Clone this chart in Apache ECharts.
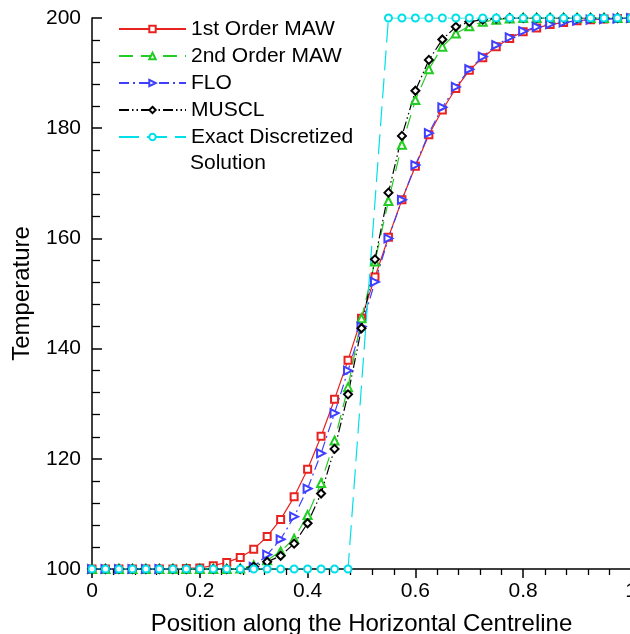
<!DOCTYPE html>
<html>
<head>
<meta charset="utf-8">
<script src="https://cdn.jsdelivr.net/npm/echarts@6/dist/echarts.min.js"></script>
<style>
  html, body { margin: 0; padding: 0; background: #fff; }
  #chart { width: 630px; height: 634px; }
</style>
</head>
<body>
<div id="chart"></div>
<script>
// positions along the centreline
var positions = [0, 0.025, 0.05, 0.075, 0.1, 0.125, 0.15, 0.175, 0.2, 0.225,
                 0.25, 0.275, 0.3, 0.325, 0.35, 0.375, 0.4, 0.425, 0.45, 0.475,
                 0.5, 0.525, 0.55, 0.575, 0.6, 0.625, 0.65, 0.675, 0.7, 0.725,
                 0.75, 0.775, 0.8, 0.825, 0.85, 0.875, 0.9, 0.925, 0.95, 0.975, 1];

var maw1 = [100, 100, 100, 100, 100, 100, 100, 100.1, 100.2, 100.6,
            101.2, 102.1, 103.6, 105.9, 109.0, 113.1, 118.1, 124.1, 130.8, 137.9,
            145.5, 153.0, 160.2, 167.0, 173.1, 178.8, 183.3, 187.2, 190.5, 192.8,
            194.8, 196.3, 197.5, 198.2, 198.8, 199.2, 199.5, 199.7, 199.8, 199.9, 200];

var maw2 = [100, 100, 100, 100, 100, 100, 100, 100, 100, 100,
            100, 100.1, 100.7, 101.6, 103.2, 105.5, 109.8, 115.6, 123.3, 133.0,
            145.5, 155.8, 166.8, 177.0, 185.1, 190.7, 194.8, 197.2, 198.5, 199.3,
            199.7, 199.9, 200, 200, 200, 200, 200, 200, 200, 200, 200];

var flo = [100, 100, 100, 100, 100, 100, 99.9, 99.4, 99.1, 98.9,
           98.8, 99.2, 100.4, 102.6, 105.4, 109.5, 114.6, 121.0, 128.3, 136.0,
           144.0, 152.1, 160.0, 167.0, 173.3, 179.1, 183.8, 187.5, 190.7, 193.0,
           195.1, 196.5, 197.6, 198.4, 198.9, 199.2, 199.5, 199.7, 199.8, 199.9, 200];

var muscl = [100, 100, 100, 100, 100, 100, 100, 100, 100, 100,
             100, 100, 100.4, 101.3, 102.4, 104.6, 108.3, 113.7, 121.8, 131.7,
             143.7, 156.2, 168.3, 178.6, 186.8, 192.4, 196.1, 198.4, 199.3, 199.7,
             199.9, 200, 200, 200, 200, 200, 200, 200, 200, 200, 200];

var exactX = [0, 0.025, 0.05, 0.075, 0.1, 0.125, 0.15, 0.175, 0.2, 0.225,
              0.25, 0.275, 0.3, 0.325, 0.35, 0.375, 0.4, 0.425, 0.45, 0.475,
              0.55, 0.575, 0.6, 0.625, 0.65, 0.675, 0.7, 0.725,
              0.75, 0.775, 0.8, 0.825, 0.85, 0.875, 0.9, 0.925, 0.95, 0.975, 1];
var exactT = [100, 100, 100, 100, 100, 100, 100, 100, 100, 100,
              100, 100, 100, 100, 100, 100, 100, 100, 100, 100,
              200, 200, 200, 200, 200, 200, 200, 200,
              200, 200, 200, 200, 200, 200, 200, 200, 200, 200, 200];

var FONT = 'Liberation Sans, Arial, Helvetica, sans-serif';

function pairs(xs, ys) {
    var out = [];
    for (var i = 0; i < xs.length; i++) out.push([xs[i], ys[i]]);
    return out;
}

function lineSeries(name, xs, ys, color, dash, symbol, size, rotate) {
    return {
        name: name,
        type: 'line',
        data: pairs(xs, ys),
        symbol: symbol,
        symbolSize: size,
        symbolRotate: rotate || 0,
        showAllSymbol: true,
        animation: false,
        lineStyle: { color: color, width: 1.2, type: dash },
        itemStyle: { color: color, borderColor: color, borderWidth: 1.2 }
    };
}

var chart = echarts.init(document.getElementById('chart'));

var option = {
    backgroundColor: '#fff',
    animation: false,
    grid: { left: 92, right: -1, top: 18, bottom: 65, outerBoundsMode: 'none', containLabel: false },
    legend: {
        orient: 'vertical',
        left: 113,
        top: 13,
        itemWidth: 67,
        itemHeight: 8,
        itemGap: 5,
        textStyle: { fontFamily: FONT, fontSize: 21, color: '#000', lineHeight: 22 },
        data: ['1st Order MAW', '2nd Order MAW', 'FLO', 'MUSCL', 'Exact Discretized']
    },
    graphic: [{
        type: 'text',
        left: 190,
        top: 153,
        style: { text: 'Solution', fontFamily: FONT, fontSize: 21, fill: '#000' }
    }],
    xAxis: {
        type: 'value',
        min: 0,
        max: 1,
        interval: 0.2,
        name: 'Position along the Horizontal Centreline',
        nameLocation: 'middle',
        nameGap: 43,
        nameTextStyle: { fontFamily: FONT, fontSize: 24, color: '#000' },
        axisLine: { lineStyle: { color: '#000', width: 1.5 } },
        axisTick: { inside: false, length: 9, lineStyle: { color: '#000', width: 1.5 } },
        minorTick: { show: true, splitNumber: 5, length: 6, lineStyle: { color: '#000', width: 1.3 } },
        axisLabel: { fontFamily: FONT, fontSize: 21, color: '#000', margin: 12 },
        splitLine: { show: false }
    },
    yAxis: {
        type: 'value',
        min: 100,
        max: 200,
        interval: 20,
        name: 'Temperature',
        nameLocation: 'middle',
        nameGap: 58,
        nameTextStyle: { fontFamily: FONT, fontSize: 24, color: '#000' },
        axisLine: { lineStyle: { color: '#000', width: 1.5 } },
        axisTick: { inside: true, length: 10, lineStyle: { color: '#000', width: 1.5 } },
        minorTick: { show: true, splitNumber: 5, length: 8, lineStyle: { color: '#000', width: 1.3 } },
        axisLabel: { fontFamily: FONT, fontSize: 21, color: '#000', margin: 11 },
        splitLine: { show: false }
    },
    series: [
        lineSeries('1st Order MAW', positions, maw1, '#e8231f', 'solid', 'emptyRect', 7),
        lineSeries('2nd Order MAW', positions, maw2, '#22cc22', [14, 8], 'emptyTriangle', 8),
        lineSeries('FLO', positions, flo, '#3f3fff', [10, 4, 2, 4], 'emptyTriangle', 8, -90),
        lineSeries('MUSCL', positions, muscl, '#000000', [10, 3, 1.5, 3, 1.5, 3], 'emptyDiamond', 8),
        lineSeries('Exact Discretized', exactX, exactT, '#00e0e8', [20, 8], 'emptyCircle', 7)
    ]
};

chart.setOption(option);
</script>
</body>
</html>
